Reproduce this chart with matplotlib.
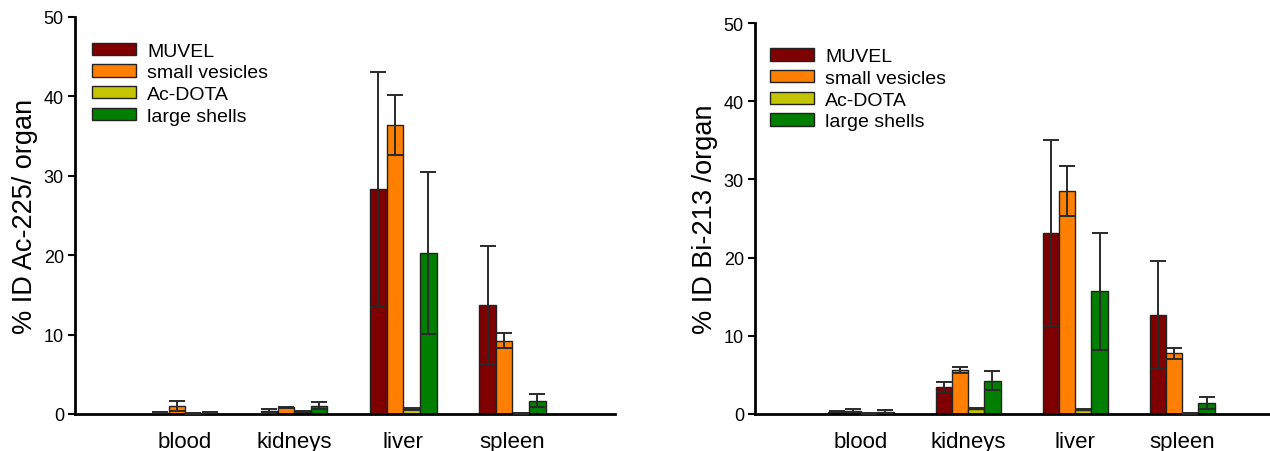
import matplotlib
matplotlib.use("Agg")
import matplotlib.pyplot as plt
import numpy as np

plt.rcParams['font.family'] = ['Liberation Sans', 'DejaVu Sans']

organs = ["blood", "kidneys", "liver", "spleen"]
series = ["MUVEL", "small vesicles", "Ac-DOTA", "large shells"]
colors = ["#7f0000", "#ff8000", "#c4c400", "#007f00"]

# Ac-225 panel (mean, error)
ac_muvel = [0.15, 0.35, 28.3, 13.7]
ac_muvel_err = [0.05, 0.25, 14.8, 7.4]
ac_small = [1.05, 0.85, 36.4, 9.25]
ac_small_err = [0.63, 0.05, 3.8, 0.95]
ac_dota = [0.05, 0.3, 0.6, 0.05]
ac_dota_err = [0.02, 0.05, 0.15, 0.02]
ac_large = [0.15, 1.05, 20.3, 1.7]
ac_large_err = [0.05, 0.42, 10.2, 0.76]

# Bi-213 panel (mean, error)
bi_muvel = [0.3, 3.45, 23.2, 12.7]
bi_muvel_err = [0.1, 0.65, 11.9, 6.9]
bi_small = [0.4, 5.6, 28.5, 7.75]
bi_small_err = [0.2, 0.4, 3.15, 0.72]
bi_dota = [0.05, 0.7, 0.55, 0.05]
bi_dota_err = [0.02, 0.1, 0.1, 0.02]
bi_large = [0.3, 4.25, 15.7, 1.4]
bi_large_err = [0.2, 1.2, 7.5, 0.72]

ylabel_ac = "% ID Ac-225/ organ"
ylabel_bi = "% ID Bi-213 /organ"

fig = plt.figure(figsize=(12.7, 4.52), dpi=100)
ax1 = fig.add_axes([75/1270, 37/452, 540/1270, 397/452])
ax2 = fig.add_axes([755/1270, 37/452, 515/1270, 391/452])

width = 0.152
x = np.arange(len(organs))

def draw(ax, vals, errs, ylabel, xlim, legend_anchor):
    for i, (v, e) in enumerate(zip(vals, errs)):
        off = (i - 1.5) * width
        ax.bar(x + off, v, width, color=colors[i], edgecolor="#222222",
               linewidth=1.0, label=series[i], zorder=2)
        ax.errorbar(x + off, v, yerr=e, fmt="none", ecolor="#2a2a2a",
                    elinewidth=1.4, capsize=5.5, capthick=1.4, zorder=3)
    ax.set_xlim(*xlim)
    ax.set_ylim(0, 50)
    ax.set_yticks([0, 10, 20, 30, 40, 50])
    ax.set_xticks(x)
    ax.set_xticklabels(organs, fontsize=16)
    ax.tick_params(axis="x", length=0, pad=12)
    ax.tick_params(axis="y", labelsize=13, length=5, width=1.5, direction="out", pad=3)
    for s in ["top", "right"]:
        ax.spines[s].set_visible(False)
    ax.spines["left"].set_linewidth(2)
    ax.spines["bottom"].set_linewidth(2)
    ax.set_ylabel(ylabel, fontsize=19.5, labelpad=4)
    leg = ax.legend(loc="upper left", bbox_to_anchor=legend_anchor, frameon=False,
                    fontsize=14, handlelength=2.25, handleheight=0.6,
                    labelspacing=0.24, handletextpad=0.6, borderaxespad=0)
    return leg

draw(ax1, [ac_muvel, ac_small, ac_dota, ac_large],
     [ac_muvel_err, ac_small_err, ac_dota_err, ac_large_err],
     ylabel_ac, (-1.01, 3.94), (0.017, 0.955))
draw(ax2, [bi_muvel, bi_small, bi_dota, bi_large],
     [bi_muvel_err, bi_small_err, bi_dota_err, bi_large_err],
     ylabel_bi, (-0.99, 3.82), (0.014, 0.955))

fig.savefig("out.png", dpi=100)
